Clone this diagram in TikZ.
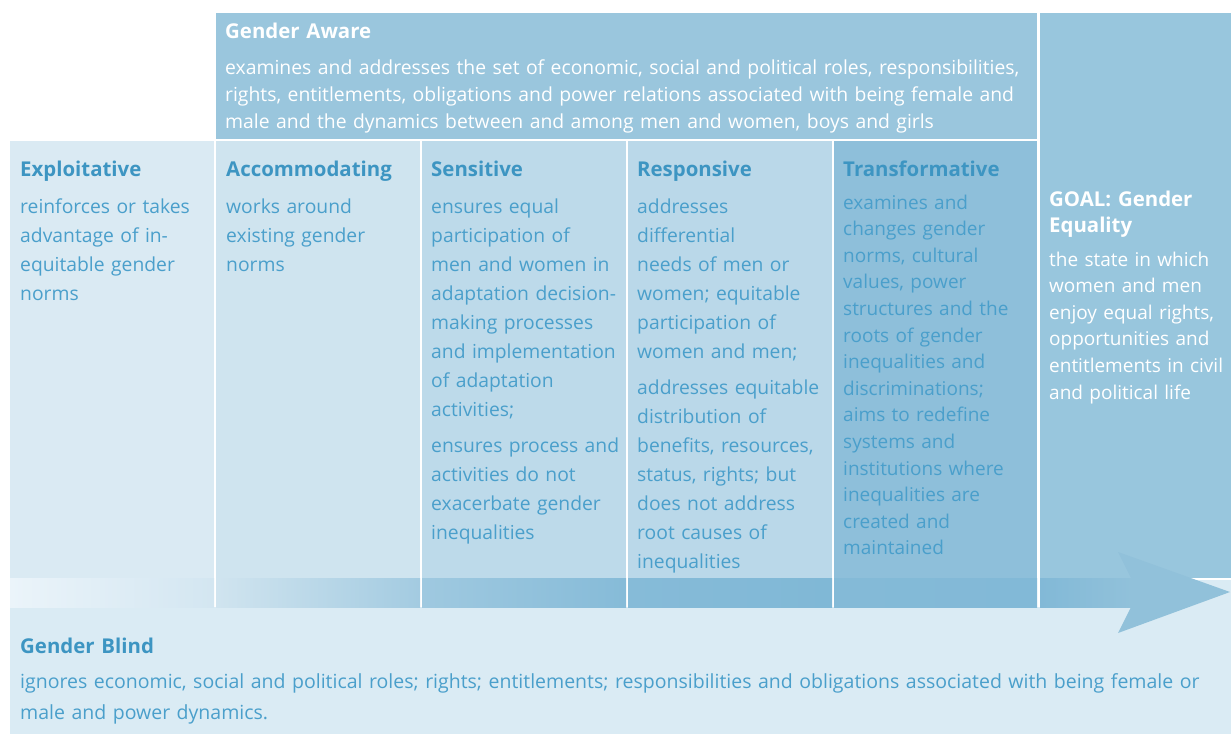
\documentclass[tikz,border=0pt]{standalone}
\usepackage{fontspec}
\setmainfont{Open Sans}
\usetikzlibrary{positioning}

\definecolor{awarebg}{HTML}{9AC6DD}
\definecolor{goalbg}{HTML}{98C6DD}
\definecolor{exploitbg}{HTML}{DAEAF3}
\definecolor{accombg}{HTML}{CFE4EF}
\definecolor{sensbg}{HTML}{BDDAEA}
\definecolor{respbg}{HTML}{BAD8E9}
\definecolor{transbg}{HTML}{8EBFDA}
\definecolor{blindbg}{HTML}{DAEBF4}
\definecolor{headblue}{HTML}{3D95C2}
\definecolor{textblue}{HTML}{4A9FCB}
\definecolor{arrowblue}{HTML}{91C1DA}

\tikzset{
  colhead/.style={anchor=base west, inner sep=0pt, align=left, text width=195pt,
    font=\bfseries\fontsize{20.4}{26}\selectfont, text=headblue},
  coltext/.style={anchor=base west, inner sep=0pt, align=left, text width=195pt,
    font=\fontsize{19.3}{29}\selectfont, text=textblue},
  whitehead/.style={colhead, text=white},
  whitetext/.style={coltext, text=white}
}

\begin{document}
\begin{tikzpicture}[x=1pt,y=-1pt]
  \useasboundingbox (0,0) rectangle (1231,734);
  % backgrounds
  \fill[awarebg] (216,13) rectangle (1037,139);
  \fill[goalbg] (1040,13) rectangle (1231,578);
  \fill[exploitbg] (10,141) rectangle (214,578);
  \fill[accombg] (216,141) rectangle (420,578);
  \fill[sensbg] (422,141) rectangle (626,578);
  \fill[respbg] (628,141) rectangle (832,578);
  \fill[transbg] (834,141) rectangle (1037,578);
  \fill[blindbg] (10,607) rectangle (1231,734);
  \fill[blindbg] (1131,579.5) rectangle (1231,607);
  % arrow band
  \shade[left color={rgb,255:red,235;green,244;blue,250}, right color={rgb,255:red,211;green,230;blue,241}] (10,578) rectangle (214,607);
  \shade[left color={rgb,255:red,208;green,228;blue,239}, right color={rgb,255:red,163;green,203;blue,225}] (216,578) rectangle (420,607);
  \shade[left color={rgb,255:red,159;green,201;blue,224}, right color={rgb,255:red,134;green,187;blue,216}] (422,578) rectangle (626,607);
  \shade[left color={rgb,255:red,134;green,187;blue,216}, right color={rgb,255:red,128;green,184;blue,214}] (628,578) rectangle (832,607);
  \shade[left color={rgb,255:red,132;green,186;blue,215}, right color={rgb,255:red,130;green,185;blue,215}] (834,578) rectangle (1037,607);
  \shade[left color={rgb,255:red,130;green,185;blue,215}, right color=arrowblue] (1040,578) rectangle (1131,607);
  \fill[arrowblue] (1131,578) -- (1118,552) -- (1230,592) -- (1118,633) -- (1131,607) -- cycle;

  % Gender Aware
  \node[whitehead] (awarehd) at (225,38) {Gender Aware};
  \node[whitetext, text width=810pt, font=\fontsize{19.35}{27}\selectfont] (awaretx) at (225,74)
    {examines and addresses the set of economic, social and political roles, responsibilities,\\
     rights, entitlements, obligations and power relations associated with being female and\\
     male and the dynamics between and among men and women, boys and girls};

  % columns
  \node[colhead] (exphd) at (20,176) {Exploitative};
  \node[coltext] (exptx) at (20,213)
    {reinforces or takes\\advantage of in-\\equitable gender\\norms};
  \node[colhead] (acchd) at (226,176) {Accommodating};
  \node[coltext] (acctx) at (226,213)
    {works around\\existing gender\\norms};
  \node[colhead] (senhd) at (431,176) {Sensitive};
  \node[coltext] (sentx) at (431,213)
    {ensures equal\\participation of\\men and women in\\adaptation decision-\\making processes\\and implementation\\of adaptation\\activities;\\[7pt]
     ensures process and\\activities do not\\exacerbate gender\\inequalities};
  \node[colhead] (reshd) at (637,176) {Responsive};
  \node[coltext] (restx) at (637,213)
    {addresses\\differential\\needs of men or\\women; equitable\\participation of\\women and men;\\[7pt]
     addresses equitable\\distribution of\\benefits, resources,\\status, rights; but\\does not address\\root causes of\\inequalities};
  \node[colhead] (trahd) at (843,176) {Transformative};
  \node[coltext, font=\fontsize{19}{26.6}\selectfont] (tratx) at (843,209)
    {examines and\\changes gender\\norms, cultural\\values, power\\structures and the\\roots of gender\\inequalities and\\discriminations;\\aims to redefine\\systems and\\institutions where\\inequalities are\\created and\\maintained};

  % goal
  \node[whitehead, text width=180pt] (goalhd) at (1049,206) {GOAL: Gender\\Equality};
  \node[whitetext, text width=180pt, font=\fontsize{19}{26.6}\selectfont] (goaltx) at (1049,266)
    {the state in which\\women and men\\enjoy equal rights,\\opportunities and\\entitlements in civil\\and political life};

  % Gender Blind
  \node[colhead] (blindhd) at (20,653) {Gender Blind};
  \node[coltext, text width=1205pt, font=\fontsize{19.5}{31}\selectfont] (blindtx) at (20,688)
    {ignores economic, social and political roles; rights; entitlements; responsibilities and obligations associated with being female or\\
     male and power dynamics.};
\end{tikzpicture}
\end{document}
